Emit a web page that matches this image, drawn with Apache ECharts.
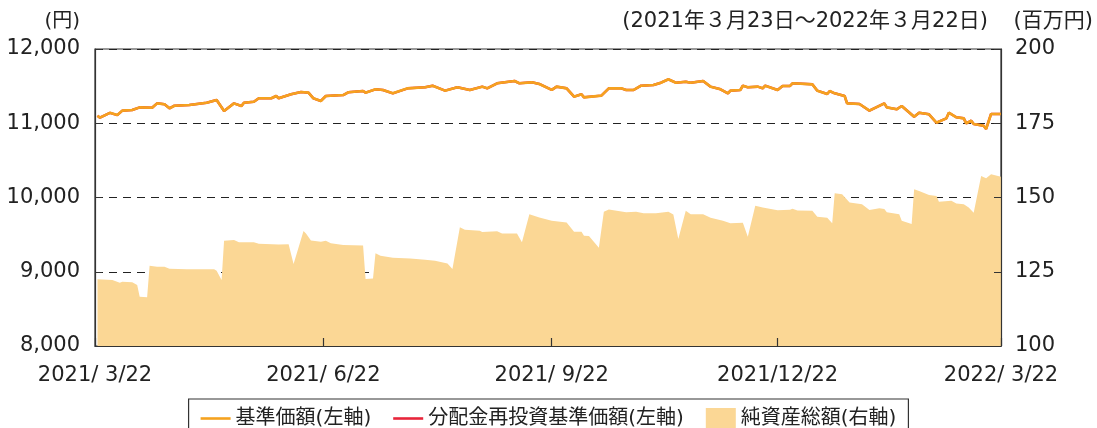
<!DOCTYPE html>
<html>
<head>
<meta charset="utf-8">
<script src="https://cdn.jsdelivr.net/npm/echarts@6/dist/echarts.min.js"></script>
<style>
html, body { margin: 0; padding: 0; background: #fff; }
#container { width: 1097px; height: 428px; }
</style>
</head>
<body>
<div id="container"></div>
<script type="text/javascript">
// 基準価額 (円)
var navDates = ['2021-03-23','2021-03-24','2021-03-28','2021-03-31','2021-04-02','2021-04-06','2021-04-09','2021-04-14','2021-04-16','2021-04-19',
    '2021-04-21','2021-04-23','2021-04-29','2021-05-06','2021-05-10','2021-05-13','2021-05-17','2021-05-20','2021-05-21','2021-05-25',
    '2021-05-27','2021-06-01','2021-06-03','2021-06-04','2021-06-09','2021-06-13','2021-06-16','2021-06-18','2021-06-21','2021-06-23',
    '2021-06-30','2021-07-02','2021-07-08','2021-07-09','2021-07-13','2021-07-16','2021-07-20','2021-07-26','2021-08-02','2021-08-05',
    '2021-08-10','2021-08-15','2021-08-20','2021-08-25','2021-08-27','2021-08-31','2021-09-07','2021-09-09','2021-09-14','2021-09-17',
    '2021-09-22','2021-09-24','2021-09-28','2021-10-01','2021-10-04','2021-10-05','2021-10-12','2021-10-15','2021-10-20','2021-10-22',
    '2021-10-25','2021-10-28','2021-11-02','2021-11-05','2021-11-08','2021-11-11','2021-11-15','2021-11-17','2021-11-22','2021-11-25',
    '2021-11-29','2021-12-02','2021-12-03','2021-12-07','2021-12-08','2021-12-10','2021-12-14','2021-12-16','2021-12-17','2021-12-22',
    '2021-12-24','2021-12-27','2021-12-28','2022-01-05','2022-01-07','2022-01-11','2022-01-12','2022-01-14','2022-01-18','2022-01-19',
    '2022-01-24','2022-01-28','2022-02-03','2022-02-04','2022-02-08','2022-02-10','2022-02-15','2022-02-17','2022-02-21','2022-02-24',
    '2022-02-28','2022-03-01','2022-03-04','2022-03-07','2022-03-08','2022-03-10','2022-03-11','2022-03-15','2022-03-16','2022-03-18',
    '2022-03-22'];
var navValues = [11100,11075,11140,11110,11170,11178,11214,11209,11268,11255,
    11201,11236,11245,11277,11313,11165,11268,11232,11277,11290,
    11336,11336,11367,11336,11390,11421,11412,11336,11300,11367,
    11380,11417,11434,11412,11457,11448,11403,11470,11484,11506,
    11439,11484,11448,11493,11470,11538,11569,11538,11551,11529,
    11450,11493,11470,11358,11390,11349,11372,11470,11470,11448,
    11448,11506,11515,11546,11592,11546,11560,11546,11569,11493,
    11457,11403,11439,11448,11506,11484,11493,11470,11506,11448,
    11502,11502,11538,11524,11439,11394,11434,11403,11367,11268,
    11259,11169,11268,11214,11188,11232,11088,11142,11120,11007,
    11066,11142,11080,11066,10999,11034,10990,10967,10923,11125,
    11125];
// 分配金再投資基準価額 (期間中分配なし → 基準価額と同じ)
var reinvValues = navValues;

// 純資産総額 (百万円)
var assetDates = ['2021-03-23','2021-03-29','2021-04-01','2021-04-02','2021-04-06','2021-04-08','2021-04-09','2021-04-12','2021-04-13','2021-04-16',
    '2021-04-19','2021-04-21','2021-04-28','2021-05-09','2021-05-10','2021-05-12','2021-05-13','2021-05-17','2021-05-19','2021-05-25',
    '2021-05-27','2021-06-04','2021-06-08','2021-06-10','2021-06-14','2021-06-15','2021-06-17','2021-06-21','2021-06-23','2021-06-25',
    '2021-06-30','2021-07-08','2021-07-09','2021-07-12','2021-07-13','2021-07-15','2021-07-20','2021-07-27','2021-08-02','2021-08-06',
    '2021-08-11','2021-08-13','2021-08-16','2021-08-18','2021-08-24','2021-08-25','2021-08-31','2021-09-02','2021-09-08','2021-09-10',
    '2021-09-13','2021-09-17','2021-09-22','2021-09-28','2021-10-01','2021-10-04','2021-10-05','2021-10-07','2021-10-11','2021-10-13',
    '2021-10-15','2021-10-22','2021-10-26','2021-10-29','2021-11-03','2021-11-08','2021-11-10','2021-11-12','2021-11-15','2021-11-17',
    '2021-11-22','2021-11-25','2021-11-30','2021-12-03','2021-12-08','2021-12-10','2021-12-13','2021-12-16','2021-12-22','2021-12-27',
    '2021-12-28','2021-12-30','2022-01-05','2022-01-07','2022-01-11','2022-01-13','2022-01-14','2022-01-17','2022-01-20','2022-01-25',
    '2022-01-28','2022-02-01','2022-02-03','2022-02-04','2022-02-09','2022-02-10','2022-02-14','2022-02-15','2022-02-17','2022-02-21',
    '2022-02-24','2022-02-25','2022-03-02','2022-03-04','2022-03-07','2022-03-09','2022-03-11','2022-03-14','2022-03-16','2022-03-18',
    '2022-03-22'];
var assetValues = [122.5,122.2,121.3,121.6,121.5,120.5,116.6,116.4,127.0,126.7,
    126.7,126.0,125.8,125.8,125.3,122.2,135.4,135.7,134.9,134.9,
    134.4,134.2,134.3,127.6,138.7,137.9,135.5,135.1,135.4,134.6,
    134.0,133.8,122.6,122.7,131.2,130.4,129.7,129.5,129.0,128.7,
    127.8,125.9,140.0,139.1,138.8,138.4,138.6,137.9,137.9,134.9,
    144.4,143.3,142.2,141.6,138.5,138.5,137.1,137.0,133.1,145.2,
    146.0,145.0,145.2,144.7,144.7,145.2,144.3,136.0,145.5,144.4,
    144.4,143.2,142.2,141.3,141.5,136.8,147.2,146.6,145.7,145.9,
    146.2,145.6,145.5,143.5,143.2,141.3,151.4,151.1,148.3,147.7,
    145.8,146.4,146.1,145.0,144.4,142.2,141.1,152.8,152.2,150.8,
    150.5,148.6,148.9,148.0,147.7,146.6,144.9,157.2,156.5,157.8,
    157.0];

var tickDates = ['2021-03-22','2021-06-22','2021-09-22','2021-12-22','2022-03-22'];

var seriesNames = ['基準価額(左軸)', '分配金再投資基準価額(左軸)', '純資産総額(右軸)'];
var FONT = '"DejaVu Sans", "Noto Sans CJK JP", sans-serif';
var LINE_ICON = 'path://M0,0 L30,0 L30,2.6 L0,2.6 Z';

function toTime(s) {
    var p = s.split('-');
    return new Date(+p[0], +p[1] - 1, +p[2]).getTime();
}
function pairs(dates, vals) {
    return dates.map(function (d, i) { return [toTime(d), vals[i]]; });
}
var tickTimes = tickDates.map(toTime);

var dom = document.getElementById("container");
var myChart = echarts.init(dom, null, { renderer: 'canvas' });
var titleText = { fontSize: 20, fontWeight: 'normal', color: '#222', fontFamily: FONT };
var option = {
    animation: false,
    textStyle: { fontFamily: FONT },
    title: [
        { text: '(円)', right: 1017, top: 12, padding: 0, textStyle: titleText },
        { text: '(2021年３月23日～2022年３月22日)', right: 109, top: 11, padding: 0,
          textStyle: { fontSize: 21, fontWeight: 'normal', color: '#222', fontFamily: FONT } },
        { text: '(百万円)', right: 4, top: 11, padding: 0,
          textStyle: { fontSize: 21, fontWeight: 'normal', color: '#222', fontFamily: FONT } }
    ],
    legend: {
        data: [
            { name: seriesNames[0], icon: LINE_ICON },
            { name: seriesNames[1], icon: LINE_ICON },
            { name: seriesNames[2], icon: 'rect' }
        ],
        left: 'center',
        top: 399,
        padding: [9, 12, 14, 12],
        itemGap: 22,
        itemWidth: 30,
        itemHeight: 21,
        borderColor: '#333',
        borderWidth: 1.2,
        textStyle: { fontSize: 20, color: '#222', fontFamily: FONT }
    },
    grid: {
        left: 95, right: 96, top: 49, bottom: 82,
        show: true,
        borderColor: '#333',
        borderWidth: 1.2,
        backgroundColor: 'transparent'
    },
    xAxis: {
        type: 'value',
        min: tickTimes[0],
        max: tickTimes[tickTimes.length - 1],
        z: 5,
        axisLine: { lineStyle: { color: '#333', width: 1.2 } },
        axisTick: { show: true, inside: true, length: 8, customValues: tickTimes,
                    lineStyle: { color: '#333', width: 1.2 } },
        splitLine: { show: false },
        axisLabel: {
            customValues: tickTimes,
            margin: 19,
            fontSize: 21,
            color: '#222',
            fontFamily: FONT,
            formatter: function (v) {
                var d = new Date(v);
                var m = d.getMonth() + 1;
                return d.getFullYear() + '/' + (m < 10 ? ' ' + m : m) + '/' + d.getDate();
            }
        }
    },
    yAxis: [
        {
            type: 'value',
            min: 8000, max: 12000, interval: 1000,
            axisLine: { show: true, lineStyle: { color: '#333', width: 1.2 } },
            axisTick: { show: true, inside: true, length: 7, lineStyle: { color: '#333' } },
            splitLine: { show: true, lineStyle: { color: '#222', width: 1.2, type: [8, 6] } },
            axisLabel: {
                margin: 15, fontSize: 21, color: '#222', fontFamily: FONT,
                formatter: function (v) { return String(v).replace(/\B(?=(\d{3})+(?!\d))/g, ','); }
            }
        },
        {
            type: 'value',
            min: 100, max: 200, interval: 25,
            z: 5,
            axisLine: { show: true, lineStyle: { color: '#333', width: 1.2 } },
            axisTick: { show: true, inside: true, length: 7, lineStyle: { color: '#333' } },
            splitLine: { show: false },
            axisLabel: { margin: 14, fontSize: 21, color: '#222', fontFamily: FONT }
        }
    ],
    series: [
        {
            name: seriesNames[2],
            type: 'line',
            yAxisIndex: 1,
            data: pairs(assetDates, assetValues),
            symbol: 'none',
            color: '#FBD795',
            lineStyle: { width: 0 },
            areaStyle: { color: '#FBD795', opacity: 1, origin: 'start' },
            z: 1
        },
        {
            name: seriesNames[1],
            type: 'line',
            data: pairs(navDates, reinvValues),
            symbol: 'none',
            color: '#E8253A',
            lineStyle: { color: '#E8253A', width: 2.5 },
            z: 2
        },
        {
            name: seriesNames[0],
            type: 'line',
            data: pairs(navDates, navValues),
            symbol: 'none',
            color: '#F5A21F',
            lineStyle: { color: '#F5A21F', width: 2.6 },
            z: 3
        }
    ]
};
myChart.setOption(option, true);
</script>
</body>
</html>
